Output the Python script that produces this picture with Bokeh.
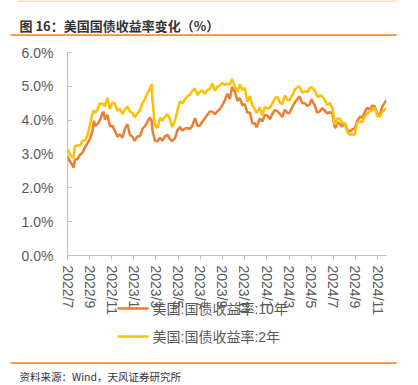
import pandas as pd
from bokeh.plotting import figure
from bokeh.models import Range1d, FixedTicker, PrintfTickFormatter, ColumnDataSource
from bokeh.core.properties import value
from bokeh.embed import file_html
from bokeh.resources import INLINE

# ---------------- data ----------------
dates = [
    "2022-07-15", "2022-07-22", "2022-07-29", "2022-08-01", "2022-08-05", "2022-08-12",
    "2022-08-19", "2022-08-26", "2022-09-02", "2022-09-09", "2022-09-16", "2022-09-23",
    "2022-09-27", "2022-09-30", "2022-10-07", "2022-10-14", "2022-10-21", "2022-10-24",
    "2022-10-28", "2022-11-04", "2022-11-11", "2022-11-18", "2022-11-25", "2022-12-02",
    "2022-12-09", "2022-12-16", "2022-12-23", "2022-12-30",
    "2023-01-06", "2023-01-13", "2023-01-19", "2023-01-27", "2023-02-03", "2023-02-10",
    "2023-02-17", "2023-02-24", "2023-03-02", "2023-03-08", "2023-03-10", "2023-03-17",
    "2023-03-24", "2023-03-31", "2023-04-07", "2023-04-14", "2023-04-21", "2023-04-28",
    "2023-05-04", "2023-05-12", "2023-05-19", "2023-05-26", "2023-06-02", "2023-06-09",
    "2023-06-16", "2023-06-23", "2023-06-30", "2023-07-07", "2023-07-14", "2023-07-21",
    "2023-07-28", "2023-08-04", "2023-08-11", "2023-08-18", "2023-08-25", "2023-09-01",
    "2023-09-08", "2023-09-15", "2023-09-22", "2023-09-29", "2023-10-06", "2023-10-13",
    "2023-10-19", "2023-10-27", "2023-11-03", "2023-11-10", "2023-11-17", "2023-11-24",
    "2023-12-01", "2023-12-08", "2023-12-15", "2023-12-22", "2023-12-27",
    "2024-01-05", "2024-01-12", "2024-01-19", "2024-01-26", "2024-02-02", "2024-02-09",
    "2024-02-16", "2024-02-23", "2024-03-01", "2024-03-08", "2024-03-15", "2024-03-22",
    "2024-03-28", "2024-04-05", "2024-04-12", "2024-04-19", "2024-04-25", "2024-05-03",
    "2024-05-10", "2024-05-17", "2024-05-24", "2024-05-29", "2024-06-07", "2024-06-14",
    "2024-06-21", "2024-06-28", "2024-07-05", "2024-07-12", "2024-07-19", "2024-07-26",
    "2024-08-02", "2024-08-05", "2024-08-09", "2024-08-16", "2024-08-23", "2024-08-30",
    "2024-09-06", "2024-09-13", "2024-09-20", "2024-09-27", "2024-10-04", "2024-10-11",
    "2024-10-18", "2024-10-25", "2024-11-01", "2024-11-08", "2024-11-15", "2024-11-22",
    "2024-11-29", "2024-12-06", "2024-12-13", "2024-12-20", "2024-12-24",
]

yield_10y = [
    2.93, 2.77, 2.67, 2.60, 2.83, 2.85, 2.98, 3.04, 3.19, 3.32, 3.45, 3.69,
    3.98, 3.83, 3.89, 4.00, 4.21, 4.25, 4.02, 4.16, 3.82, 3.83, 3.68, 3.51,
    3.58, 3.48, 3.75, 3.88,
    3.56, 3.51, 3.39, 3.52, 3.53, 3.74, 3.82, 3.95, 4.08, 3.98, 3.70, 3.39,
    3.38, 3.48, 3.39, 3.52, 3.57, 3.44, 3.38, 3.46, 3.70, 3.80, 3.69, 3.75,
    3.77, 3.74, 3.84, 4.06, 3.83, 3.84, 3.96, 4.05, 4.16, 4.26, 4.25, 4.18,
    4.26, 4.33, 4.44, 4.59, 4.78, 4.63, 4.98, 4.84, 4.57, 4.65, 4.44, 4.47,
    4.22, 4.23, 3.91, 3.90, 3.79,
    4.05, 3.96, 4.15, 4.14, 4.03, 4.18, 4.30, 4.26, 4.19, 4.09, 4.31, 4.22,
    4.21, 4.39, 4.52, 4.62, 4.70, 4.51, 4.50, 4.42, 4.47, 4.62, 4.43, 4.22,
    4.26, 4.36, 4.28, 4.20, 4.24, 4.20, 3.79, 3.78, 3.94, 3.89, 3.81, 3.91,
    3.72, 3.66, 3.73, 3.75, 3.98, 4.10, 4.08, 4.24, 4.37, 4.31, 4.43, 4.41,
    4.18, 4.15, 4.40, 4.52, 4.59,
]

yield_2y = [
    3.13, 2.99, 2.89, 2.90, 3.23, 3.25, 3.25, 3.39, 3.40, 3.56, 3.87, 4.20,
    4.29, 4.22, 4.31, 4.50, 4.48, 4.49, 4.41, 4.66, 4.33, 4.53, 4.48, 4.28,
    4.33, 4.18, 4.31, 4.41,
    4.25, 4.22, 4.08, 4.20, 4.29, 4.50, 4.62, 4.81, 4.89, 5.07, 4.59, 3.84,
    3.77, 4.06, 3.99, 4.10, 4.18, 4.04, 3.80, 3.98, 4.28, 4.56, 4.50, 4.61,
    4.71, 4.75, 4.87, 4.94, 4.74, 4.84, 4.88, 4.78, 4.89, 4.92, 5.08, 4.87,
    4.98, 5.03, 5.10, 5.04, 5.08, 5.05, 5.22, 5.00, 4.84, 5.06, 4.89, 4.95,
    4.54, 4.71, 4.44, 4.32, 4.21,
    4.38, 4.14, 4.39, 4.34, 4.36, 4.49, 4.64, 4.69, 4.53, 4.47, 4.73, 4.59,
    4.59, 4.73, 4.90, 4.97, 5.00, 4.81, 4.86, 4.83, 4.95, 4.98, 4.87, 4.68,
    4.73, 4.71, 4.60, 4.45, 4.51, 4.36, 3.88, 3.89, 4.05, 4.05, 3.92, 3.91,
    3.65, 3.57, 3.59, 3.56, 3.93, 3.96, 3.95, 4.11, 4.20, 4.25, 4.31, 4.37,
    4.13, 4.10, 4.24, 4.31, 4.35,
]

tick_labels = ["2022/7", "2022/9", "2022/11", "2023/1", "2023/3", "2023/5", "2023/7",
               "2023/9", "2023/11", "2024/1", "2024/3", "2024/5", "2024/7", "2024/9",
               "2024/11"]

series_names = ["美国:国债收益率:10年", "美国:国债收益率:2年"]
series_colors = ["#ED7D31", "#FFC000"]
title_text = "图 16：美国国债收益率变化（%）"
source_text = "资料来源：Wind，天风证券研究所"

# ---------------- styling / layout ----------------
LATIN = "'Liberation Sans', 'Noto Sans CJK SC'"
CJK = "'Noto Sans CJK SC'"
GRAY = "#595959"
AXIS = "#bfbfbf"
ORANGE_RULE = "#F5922F"
W, H = 418, 385
FL, FR, FT, FB = 67, 386, 52, 255       # frame edges in page pixels

origin = pd.Timestamp(dates[0])
days = [(pd.Timestamp(d) - origin).days for d in dates]
tick_step = 62.06
tick_pos = [int(round(k * tick_step)) for k in range(len(tick_labels))]

p = figure(width=W, height=H, output_backend="svg", toolbar_location=None,
           x_range=Range1d(0, 894), y_range=Range1d(0, 6),
           min_border_left=FL, min_border_right=W - FR, min_border_top=FT,
           min_border_bottom=H - FB)
p.extra_x_ranges = {"px": Range1d(FL, FR)}
p.extra_y_ranges = {"py": Range1d(FB, FT)}
p.outline_line_color = None
p.grid.visible = False
p.background_fill_color = "white"
p.border_fill_color = "white"

src = ColumnDataSource(dict(x=days, y10=yield_10y, y2=yield_2y))
p.line("x", "y10", source=src, line_color=series_colors[0], line_width=2.5)
p.line("x", "y2", source=src, line_color=series_colors[1], line_width=2.5)

xa = p.xaxis[0]
xa.ticker = FixedTicker(ticks=tick_pos)
xa.major_label_overrides = {tp: lab for tp, lab in zip(tick_pos, tick_labels)}
xa.major_label_orientation = "vertical"
xa.major_label_text_font = LATIN
xa.major_label_text_font_size = "14px"
xa.major_label_text_color = GRAY
xa.axis_line_color = AXIS
xa.major_tick_line_color = AXIS
xa.major_tick_out = 4
xa.major_tick_in = 0
xa.minor_tick_line_color = None
xa.major_label_standoff = 6

ya = p.yaxis[0]
ya.ticker = FixedTicker(ticks=[0, 1, 2, 3, 4, 5, 6])
ya.formatter = PrintfTickFormatter(format="%.1f%%")
ya.major_label_text_font = LATIN
ya.major_label_text_font_size = "14px"
ya.major_label_text_color = GRAY
ya.axis_line_color = AXIS
ya.major_tick_line_color = AXIS
ya.major_tick_in = 4
ya.major_tick_out = 0
ya.minor_tick_line_color = None
ya.major_label_standoff = 14

# decorations in page-pixel ranges at overlay level (drawn outside the frame)
deco = dict(x_range_name="px", y_range_name="py", level="overlay")

# legend (below the plot, overlapping the tick labels as in the reference)
leg_rows = [308, 336]
p.segment(x0=[117] * 2, y0=leg_rows, x1=[148] * 2, y1=leg_rows,
          line_color=series_colors, line_width=2.5, **deco)
p.text(x=[152] * 2, y=leg_rows, text=series_names, text_font=value(LATIN),
       text_font_size=value("14px"), text_color=GRAY, text_baseline="middle",
       text_align="left", **deco)

# header
p.segment(x0=[17], y0=[0.8], x1=[396], y1=[0.8], line_color="#FCDCBD",
          line_width=1.5, **deco)
p.text(x=[19], y=[24.6], text=[title_text], text_font=value(CJK),
       text_font_size=value("13px"), text_font_style="bold", text_color="#333333",
       text_baseline="middle", text_align="left", **deco)
p.segment(x0=[10], y0=[34.7], x1=[396], y1=[34.7], line_color=ORANGE_RULE,
          line_width=1.7, **deco)

# footer
p.segment(x0=[10], y0=[362.7], x1=[396], y1=[362.7], line_color=ORANGE_RULE,
          line_width=1.7, **deco)
p.text(x=[19], y=[375.7], text=[source_text], text_font=value(CJK),
       text_font_size=value("10.5px"), text_color="#333333",
       text_baseline="middle", text_align="left", **deco)

open("out.html", "w").write(file_html(p, INLINE))
